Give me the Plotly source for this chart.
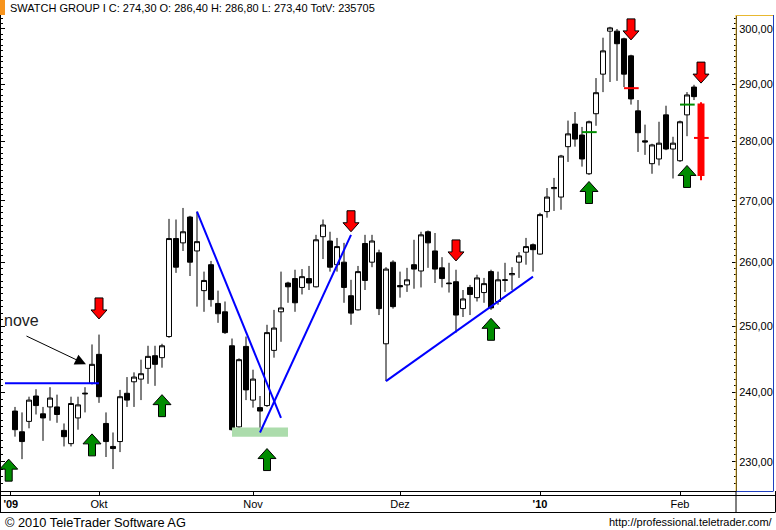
import numpy as np
import plotly.graph_objects as go

# ---------------- data ----------------
open_ = [237.3, 234.3, 235.8, 239.5, 236.9, 237.9, 237.9, 234.5, 232.6, 236.3,
         239.8, 241.4, 245.7, 235.5, 232.2, 232.9, 239.9, 241.6, 242.0, 243.6,
         245.5, 245.2, 248.4, 263.8, 263.1, 267.3, 261.8, 255.5, 259.6, 253.5,
         252.2, 247.0, 235.0, 246.9, 238.9, 237.8, 238.1, 246.3, 252.2, 256.7,
         257.4, 256.0, 257.4, 256.1, 264.1, 263.4, 259.6, 260.0, 254.7, 252.5,
         263.0, 260.0, 261.5, 247.3, 260.0, 256.3, 256.4, 259.6, 258.6, 264.9,
         261.8, 259.1, 256.7, 256.9, 252.7, 256.0, 254.4, 255.2, 258.5, 253.8,
         257.1, 258.0, 260.0, 261.6, 262.8, 261.3, 268.2, 272.0, 270.6, 279.1,
         283.0, 281.1, 274.5, 284.8, 291.8, 299.6, 299.6, 298.2, 295.1, 285.3,
         280.1, 276.2, 277.0, 284.6, 278.7, 276.7, 284.6, 289.5, 286.4]
high = [237.9, 237.1, 239.4, 240.5, 237.9, 240.8, 239.7, 235.5, 239.4, 239.4,
        240.8, 247.2, 248.7, 237.1, 234.2, 240.4, 242.3, 243.0, 244.9, 247.0,
        247.0, 247.3, 267.0, 266.9, 268.8, 267.5, 268.2, 258.5, 260.2, 255.5,
        253.8, 248.1, 245.1, 248.4, 243.4, 239.5, 250.2, 252.5, 258.5, 256.9,
        258.8, 258.9, 259.4, 264.4, 266.9, 264.9, 263.9, 263.1, 257.2, 259.4,
        264.4, 264.4, 262.0, 259.2, 260.3, 258.5, 259.1, 263.6, 264.9, 265.1,
        264.7, 260.8, 259.9, 258.8, 255.6, 256.4, 258.0, 257.5, 258.8, 258.5,
        259.9, 259.2, 261.6, 263.9, 263.0, 268.0, 272.1, 273.8, 277.7, 283.6,
        285.1, 282.5, 283.6, 291.1, 298.4, 300.4, 300.0, 298.4, 295.3, 287.2,
        282.9, 279.6, 283.4, 286.2, 280.8, 283.6, 288.6, 289.9, 286.8]
low = [233.6, 230.4, 234.8, 236.8, 233.0, 235.9, 235.6, 232.2, 232.2, 234.6,
       237.1, 241.2, 238.5, 230.7, 229.0, 231.4, 237.9, 237.9, 238.9, 241.3,
       241.0, 243.7, 248.2, 258.3, 261.8, 257.8, 253.0, 252.2, 253.0, 250.5,
       248.8, 234.5, 234.5, 238.9, 237.8, 234.2, 237.9, 245.2, 247.6, 253.6,
       252.2, 254.9, 255.6, 256.0, 260.5, 258.5, 258.5, 253.6, 250.2, 252.4,
       255.6, 259.2, 251.7, 241.7, 252.7, 254.4, 255.3, 255.8, 256.0, 259.1,
       256.7, 256.0, 255.2, 249.0, 251.4, 251.7, 253.8, 253.6, 252.5, 253.3,
       255.3, 255.6, 257.5, 259.6, 258.5, 261.2, 267.2, 268.3, 268.5, 276.5,
       279.1, 275.7, 274.3, 282.7, 288.6, 290.4, 290.6, 289.5, 286.4, 278.2,
       277.7, 274.5, 275.9, 278.5, 273.7, 276.5, 280.9, 287.2, 273.4]
close = [234.6, 232.9, 238.9, 238.1, 236.3, 239.2, 236.8, 233.6, 238.4, 238.2,
         239.9, 244.2, 239.4, 232.9, 231.9, 239.4, 238.9, 242.3, 242.8, 245.4,
         244.2, 247.0, 263.8, 259.2, 264.9, 260.0, 263.3, 257.1, 254.1, 251.9,
         249.0, 234.6, 244.9, 240.4, 242.0, 237.3, 249.0, 249.7, 252.8, 256.1,
         253.6, 257.7, 256.7, 263.6, 266.0, 259.2, 262.5, 256.0, 252.0, 258.5,
         257.1, 263.4, 252.7, 258.9, 253.0, 256.1, 257.2, 258.9, 264.4, 263.1,
         258.9, 257.4, 256.6, 251.7, 254.2, 254.9, 257.5, 256.6, 252.8, 257.2,
         257.2, 258.2, 261.0, 262.5, 262.0, 267.7, 270.6, 272.2, 277.5, 281.3,
         280.4, 277.0, 283.4, 288.5, 296.0, 300.2, 297.3, 291.8, 287.4, 281.5,
         279.9, 279.4, 279.7, 278.7, 279.7, 283.4, 288.1, 287.8, 274.3]
total_volume = 235705
instrument = "SWATCH GROUP I"

month_pos = [12, 34, 55, 75, 95]
month_labels = ["Okt", "Nov", "Dez", "<b>'10</b>", "Feb"]
year_pos = -0.6
year_label = "<b>'09</b>"

y_ticks = [230, 240, 250, 260, 270, 280, 290, 300]
y_minor = list(range(226, 303))

# blue trend lines (index, price)
trend_x0 = [-1.43, 26.0, 35.0, 53.0]
trend_p0 = [241.4, 268.2, 234.2, 241.7]
trend_x1 = [12.0, 38.0, 48.0, 74.0]
trend_p1 = [241.4, 236.3, 264.4, 257.7]

# support zone (green)
zone_x = [31.0, 39.0]
zone_p = [233.6, 234.9]

# signal arrows
sell_idx = [12, 48, 63, 88, 98]
sell_tip = [251.1, 264.9, 260.2, 298.0, 290.2]
buy_idx = [-0.9, 11, 21, 36, 68, 82, 96]
buy_tip = [230.4, 234.0, 239.7, 231.9, 251.2, 273.2, 275.9]

# small level marks
mark_idx = [82, 88, 96, 98]
mark_price = [281.6, 289.3, 286.4, 280.6]
mark_color = ["#008c00", "#ff0000", "#008c00", "#ff0000"]

# "nove" annotation arrow tip
note_idx = 10.14
note_price = 244.2

# ---------------- geometry helpers ----------------
X_RANGE = [-2, 103]
Y_LOG_RANGE = [2.35399, 2.48085]
PLOT_W, PLOT_H = 735, 476
PX_PER_X = PLOT_W / (X_RANGE[1] - X_RANGE[0])
PX_PER_DEC = PLOT_H / (Y_LOG_RANGE[1] - Y_LOG_RANGE[0])
ML, MT = 1, 15


def px2paper_x(px):
    return (px - ML) / PLOT_W


def px2paper_y(py):
    return (MT + PLOT_H - py) / PLOT_H


def arrow_poly(xi, tip, up, w_head, w_shaft, h_head, h_total):
    pts = [(0, 0), (-w_head / 2, h_head), (-w_shaft / 2, h_head), (-w_shaft / 2, h_total),
           (w_shaft / 2, h_total), (w_shaft / 2, h_head), (w_head / 2, h_head), (0, 0)]
    sgn = -1 if up else 1
    xs = [xi + dx / PX_PER_X for dx, dy in pts]
    ys = [tip * 10 ** (sgn * dy / PX_PER_DEC) for dx, dy in pts]
    return xs, ys


FONT = "Liberation Sans, Arial, sans-serif"
idx = list(range(len(open_)))

fig = go.Figure()

# support zone
fig.add_trace(go.Scatter(x=[zone_x[0], zone_x[1], zone_x[1], zone_x[0], zone_x[0]],
                         y=[zone_p[0], zone_p[0], zone_p[1], zone_p[1], zone_p[0]],
                         fill="toself", fillcolor="#acdcac", line=dict(width=0),
                         mode="lines", hoverinfo="skip"))

# candles
fig.add_trace(go.Candlestick(x=idx[:-1], open=open_[:-1], high=high[:-1], low=low[:-1], close=close[:-1],
                             increasing=dict(line=dict(color="black", width=1), fillcolor="white"),
                             decreasing=dict(line=dict(color="black", width=1), fillcolor="black"),
                             whiskerwidth=0, hoverinfo="skip"))
fig.add_trace(go.Candlestick(x=idx[-1:], open=open_[-1:], high=high[-1:], low=low[-1:], close=close[-1:],
                             increasing=dict(line=dict(color="#ff0000", width=2), fillcolor="#ff0000"),
                             decreasing=dict(line=dict(color="#ff0000", width=2), fillcolor="#ff0000"),
                             whiskerwidth=0, hoverinfo="skip"))

# trend lines
for x0, p0, x1, p1 in zip(trend_x0, trend_p0, trend_x1, trend_p1):
    fig.add_trace(go.Scatter(x=[x0, x1], y=[p0, p1], mode="lines",
                             line=dict(color="#0000ff", width=2), hoverinfo="skip"))

# level marks
for xi, p, c in zip(mark_idx, mark_price, mark_color):
    fig.add_trace(go.Scatter(x=[xi - 1.0, xi + 1.1], y=[p, p], mode="lines",
                             line=dict(color=c, width=2), hoverinfo="skip"))

# arrows
for xi, tip in zip(sell_idx, sell_tip):
    xs, ys = arrow_poly(xi, tip, False, 16, 8, 9, 21)
    fig.add_trace(go.Scatter(x=xs, y=ys, fill="toself", fillcolor="#ff0000", mode="lines",
                             line=dict(color="black", width=1), hoverinfo="skip"))
for xi, tip in zip(buy_idx, buy_tip):
    xs, ys = arrow_poly(xi, tip, True, 18, 7, 10, 22)
    fig.add_trace(go.Scatter(x=xs, y=ys, fill="toself", fillcolor="#008c00", mode="lines",
                             line=dict(color="black", width=1), hoverinfo="skip"))


def fmt(v):
    return f"{v:.2f}".replace(".", ",")


header = (f"{instrument} C: {fmt(close[-1])} O: {fmt(open_[-1])} H: {fmt(high[-1])} "
          f"L: {fmt(low[-1])} TotV: {total_volume}")

annotations = [
    dict(text=header, xref="paper", yref="paper", x=px2paper_x(8), y=px2paper_y(8),
         xanchor="left", yanchor="middle", showarrow=False,
         font=dict(family=FONT, size=11, color="black")),
    dict(text="nove", xref="paper", yref="paper", x=px2paper_x(2), y=px2paper_y(321),
         xanchor="left", yanchor="middle", showarrow=False,
         font=dict(family=FONT, size=16, color="#222222")),
    dict(text="", x=note_idx, y=np.log10(note_price), xref="x", yref="y",
         ax=-61, ay=-29, showarrow=True, arrowhead=2, arrowsize=2.2, arrowwidth=1,
         arrowcolor="black"),
    dict(text="© 2010 TeleTrader Software AG", xref="paper", yref="paper",
         x=px2paper_x(3), y=px2paper_y(522), xanchor="left", yanchor="middle", showarrow=False,
         font=dict(family=FONT, size=12.8, color="black")),
    dict(text="http://professional.teletrader.com/", xref="paper", yref="paper",
         x=px2paper_x(775), y=px2paper_y(522), xanchor="right", yanchor="middle", showarrow=False,
         font=dict(family=FONT, size=11, color="black")),
]


def pline(x0, y0, x1, y1, color, width=1):
    return dict(type="line", xref="paper", yref="paper",
                x0=px2paper_x(x0), y0=px2paper_y(y0), x1=px2paper_x(x1), y1=px2paper_y(y1),
                line=dict(color=color, width=width), layer="above")


shapes = [
    dict(type="rect", xref="paper", yref="paper", x0=px2paper_x(0), x1=px2paper_x(5),
         y0=px2paper_y(15), y1=px2paper_y(0), fillcolor="#f7941d", line=dict(width=0)),
    pline(736, 15, 736, 491, "#e8b830"),
    pline(736, 15.5, 773, 15.5, "#e8b830"),
    pline(773.5, 15, 773.5, 491, "#1f3fbf"),
    pline(736, 491.5, 773.5, 491.5, "#1f3fbf"),
    pline(0, 495.5, 775, 495.5, "black"),
    pline(0, 512.5, 775, 512.5, "black"),
    pline(736, 491, 736, 512.5, "black"),
    pline(775.5, 491, 775.5, 512.5, "black"),
    pline(0.5, 491, 0.5, 512.5, "black"),
]

fig.update_layout(
    width=776, height=530,
    margin=dict(l=ML, r=776 - ML - PLOT_W, t=MT, b=530 - MT - PLOT_H, autoexpand=False),
    paper_bgcolor="white", plot_bgcolor="white",
    showlegend=False, boxgap=0.29, boxgroupgap=0,
    annotations=annotations, shapes=shapes,
    xaxis=dict(range=X_RANGE, rangeslider=dict(visible=False), showgrid=False, zeroline=False,
               tickmode="array", tickvals=[year_pos] + month_pos, ticktext=[year_label] + month_labels,
               ticks="outside", ticklen=3, tickcolor="black", showline=True, linecolor="black",
               linewidth=1, tickfont=dict(family=FONT, size=11, color="black"), automargin=False),
    yaxis=dict(type="log", range=Y_LOG_RANGE, side="right", showgrid=False, zeroline=False,
               tickmode="array", tickvals=y_ticks, ticktext=[fmt(v) for v in y_ticks],
               ticks="inside", ticklen=4, tickcolor="black",
               minor=dict(tickmode="array", tickvals=y_minor, ticks="inside", ticklen=2, tickcolor="black"),
               showline=True, linecolor="black", linewidth=1, mirror="allticks",
               tickfont=dict(family=FONT, size=11, color="black"), automargin=False),
)

fig.write_html("out.html")
